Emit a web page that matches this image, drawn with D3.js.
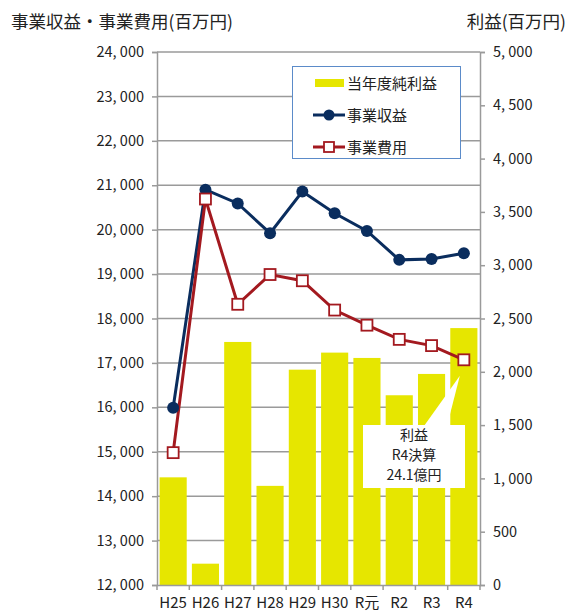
<!DOCTYPE html>
<html><head><meta charset="utf-8">
<script src="https://cdn.jsdelivr.net/npm/d3@7"></script>
<style>
body{margin:0;background:#fff;}
text{font-family:"Noto Sans CJK JP","Noto Sans",sans-serif;fill:#222;}
</style></head>
<body><svg id="c" width="576" height="614"></svg>
<script>
const categories = ["H25","H26","H27","H28","H29","H30","R元","R2","R3","R4"];
const profit   = [1010, 200, 2280, 930, 2020, 2180, 2130, 1780, 1980, 2410];
const revenue  = [15990, 20900, 20590, 19920, 20860, 20370, 19970, 19320, 19340, 19470];
const expense  = [14980, 20690, 18320, 18990, 18850, 18190, 17850, 17530, 17390, 17070];
const leftTicks  = [12000,13000,14000,15000,16000,17000,18000,19000,20000,21000,22000,23000,24000];
const rightTicks = [0,500,1000,1500,2000,2500,3000,3500,4000,4500,5000];
const legendLabels = ["当年度純利益","事業収益","事業費用"];
const calloutLines = ["利益","R4決算","24.1億円"];

const svg = d3.select("#c");
const L=157, R=480, T=52, B=585;
const x = d3.scaleBand().domain(categories).range([L,R]).paddingInner(0.16).paddingOuter(0.08);
const xb = d3.scaleBand().domain(categories).range([L,R]);
const yL = d3.scaleLinear().domain([12000,24000]).range([B,T]);
const yR = d3.scaleLinear().domain([0,5000]).range([B,T]);
const fmt = d => d3.format(",")(d).replace(",", ", ");
const gray="#9a9a9a", yellow="#e6e600", navy="#0a2d5e", red="#a3191f";

// gridlines
svg.append("g").selectAll("line").data(leftTicks.slice(1)).join("line")
  .attr("x1",L).attr("x2",R).attr("y1",d=>yL(d)).attr("y2",d=>yL(d))
  .attr("stroke",gray).attr("stroke-width",1.5);

// bars
svg.append("g").selectAll("rect").data(profit).join("rect")
  .attr("x",(d,i)=>x(categories[i])).attr("width",x.bandwidth())
  .attr("y",d=>yR(d)).attr("height",d=>B-yR(d)).attr("fill",yellow);

// axes
const gl = svg.append("g").attr("transform",`translate(${L},0)`)
  .call(d3.axisLeft(yL).tickValues(leftTicks).tickFormat(fmt).tickSize(5).tickPadding(8));
const gr = svg.append("g").attr("transform",`translate(${R},0)`)
  .call(d3.axisRight(yR).tickValues(rightTicks).tickFormat(fmt).tickSize(5).tickPadding(8));
const gb = svg.append("g").attr("transform",`translate(0,${B})`)
  .call(d3.axisBottom(xb).tickSize(0).tickPadding(12));
[gl,gr,gb].forEach(g=>{
  g.select(".domain").attr("stroke",gray).attr("stroke-width",1.5);
  g.selectAll(".tick line").attr("stroke",gray).attr("stroke-width",1.5);
  g.selectAll("text").attr("font-size",14.5).attr("fill","#222")
   .attr("font-family","'DejaVu Sans Condensed','Noto Sans CJK JP',sans-serif");
});
gb.selectAll("text").attr("font-family","'Noto Sans CJK JP',sans-serif").attr("font-size",15);
// bottom ticks at band boundaries
svg.append("g").selectAll("line").data(categories.concat(["_end"])).join("line")
  .attr("x1",(d,i)=>i<categories.length?xb(d):R).attr("x2",(d,i)=>i<categories.length?xb(d):R)
  .attr("y1",B).attr("y2",B+5).attr("stroke",gray).attr("stroke-width",1.5);

// lines
const cx = d=>x(d)+x.bandwidth()/2;
const line = d3.line().x((d,i)=>cx(categories[i])).y(d=>yL(d));
svg.append("path").datum(revenue).attr("d",line).attr("fill","none").attr("stroke",navy).attr("stroke-width",3);
svg.append("path").datum(expense).attr("d",line).attr("fill","none").attr("stroke",red).attr("stroke-width",3);
svg.append("g").selectAll("circle").data(revenue).join("circle")
  .attr("cx",(d,i)=>cx(categories[i])).attr("cy",d=>yL(d)).attr("r",6).attr("fill",navy);
svg.append("g").selectAll("rect").data(expense).join("rect")
  .attr("x",(d,i)=>cx(categories[i])-5.5).attr("y",d=>yL(d)-5.5).attr("width",11).attr("height",11)
  .attr("fill","#fff").attr("stroke",red).attr("stroke-width",1.8);

// callout
const px = cx("R4"), py = yL(expense[9]);
svg.append("path").attr("d",`M424,426 L${px-4},${py+16} L447,426 Z`).attr("fill","#fff");
svg.append("rect").attr("x",363).attr("y",425).attr("width",102).attr("height",63).attr("fill","#fff");
svg.append("g").selectAll("text").data(calloutLines).join("text")
  .attr("x",414).attr("y",(d,i)=>440+i*20).attr("text-anchor","middle")
  .attr("font-size",14).attr("fill","#333").text(d=>d);

// legend
const lg = svg.append("g");
lg.append("rect").attr("x",292.5).attr("y",66.5).attr("width",168).attr("height",92)
  .attr("fill","#fff").attr("stroke","#5b8bc9").attr("stroke-width",1);
const ly = [83,115,147];
lg.append("rect").attr("x",315).attr("y",ly[0]-4).attr("width",29).attr("height",8).attr("fill",yellow);
lg.append("line").attr("x1",313).attr("x2",345).attr("y1",ly[1]).attr("y2",ly[1]).attr("stroke",navy).attr("stroke-width",3);
lg.append("circle").attr("cx",329).attr("cy",ly[1]).attr("r",5.5).attr("fill",navy);
lg.append("line").attr("x1",313).attr("x2",345).attr("y1",ly[2]).attr("y2",ly[2]).attr("stroke",red).attr("stroke-width",3);
lg.append("rect").attr("x",324).attr("y",ly[2]-5).attr("width",10).attr("height",10).attr("fill","#fff").attr("stroke",red).attr("stroke-width",1.8);
lg.selectAll("text.l").data(legendLabels).join("text").attr("class","l")
  .attr("x",347).attr("y",(d,i)=>ly[i]+5.5).attr("font-size",15).text(d=>d);

// titles
svg.append("text").attr("x",11).attr("y",28).attr("font-size",17.5).text("事業収益・事業費用(百万円)");
svg.append("text").attr("x",566).attr("y",28).attr("font-size",17.5).attr("text-anchor","end").text("利益(百万円)");
</script></body></html>
